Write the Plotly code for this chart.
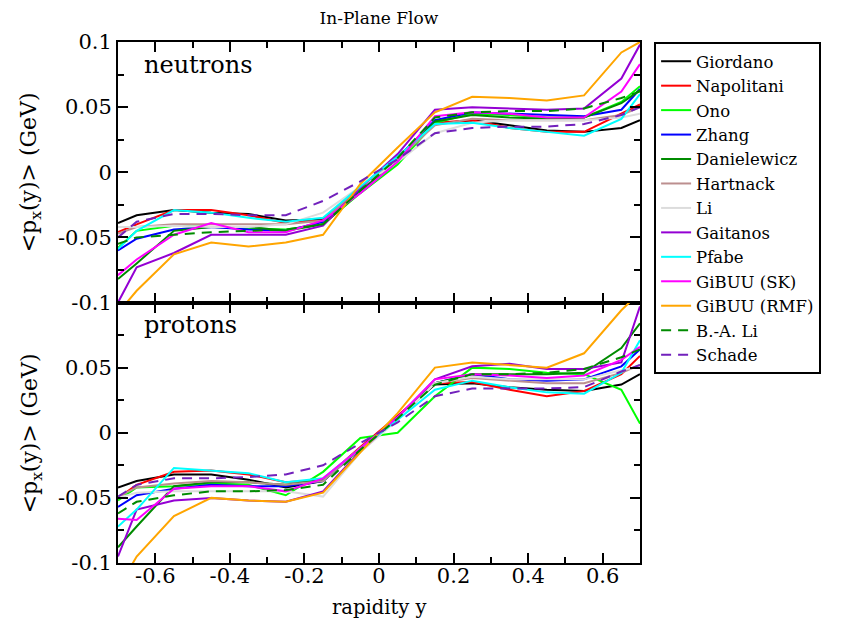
import plotly.graph_objects as go

rapidity = [-0.7, -0.65, -0.55, -0.45, -0.35, -0.25, -0.15, -0.05,
            0.05, 0.15, 0.25, 0.35, 0.45, 0.55, 0.65, 0.7]

models = ["Giordano", "Napolitani", "Ono", "Zhang", "Danielewicz", "Hartnack", "Li",
          "Gaitanos", "Pfabe", "GiBUU (SK)", "GiBUU (RMF)", "B.-A. Li", "Schade"]

neutrons = {
    "Giordano":    [-0.039, -0.033, -0.029, -0.031, -0.032, -0.037, -0.036, -0.012, 0.012, 0.037, 0.040, 0.036, 0.032, 0.031, 0.034, 0.040],
    "Napolitani":  [-0.046, -0.040, -0.029, -0.029, -0.033, -0.039, -0.037, -0.013, 0.011, 0.038, 0.040, 0.034, 0.031, 0.031, 0.045, 0.052],
    "Ono":         [-0.058, -0.045, -0.041, -0.042, -0.043, -0.044, -0.040, -0.016, 0.006, 0.038, 0.045, 0.044, 0.042, 0.042, 0.054, 0.066],
    "Zhang":       [-0.060, -0.051, -0.044, -0.042, -0.044, -0.045, -0.038, -0.013, 0.011, 0.040, 0.046, 0.045, 0.044, 0.043, 0.048, 0.064],
    "Danielewicz": [-0.082, -0.070, -0.045, -0.042, -0.042, -0.045, -0.040, -0.015, 0.010, 0.039, 0.044, 0.042, 0.041, 0.042, 0.053, 0.063],
    "Hartnack":    [-0.047, -0.042, -0.040, -0.040, -0.040, -0.040, -0.037, -0.012, 0.010, 0.036, 0.041, 0.040, 0.040, 0.040, 0.044, 0.050],
    "Li":          [-0.042, -0.042, -0.041, -0.042, -0.042, -0.040, -0.031, -0.011, 0.008, 0.030, 0.038, 0.040, 0.040, 0.040, 0.042, 0.045],
    "Gaitanos":    [-0.100, -0.073, -0.062, -0.048, -0.048, -0.048, -0.041, -0.012, 0.014, 0.048, 0.050, 0.049, 0.048, 0.049, 0.072, 0.098],
    "Pfabe":       [-0.059, -0.045, -0.029, -0.031, -0.035, -0.038, -0.035, -0.011, 0.012, 0.037, 0.038, 0.034, 0.031, 0.028, 0.041, 0.060],
    "GiBUU (SK)":  [-0.079, -0.067, -0.048, -0.039, -0.046, -0.046, -0.037, -0.016, 0.008, 0.043, 0.046, 0.045, 0.042, 0.042, 0.062, 0.083],
    "GiBUU (RMF)": [-0.108, -0.091, -0.063, -0.054, -0.057, -0.054, -0.048, -0.009, 0.019, 0.046, 0.058, 0.057, 0.055, 0.059, 0.092, 0.100],
    "B.-A. Li":    [-0.055, -0.050, -0.048, -0.046, -0.045, -0.044, -0.040, -0.014, 0.011, 0.042, 0.046, 0.047, 0.047, 0.049, 0.057, 0.062],
    "Schade":      [-0.050, -0.038, -0.032, -0.032, -0.033, -0.033, -0.022, -0.007, 0.010, 0.030, 0.034, 0.035, 0.035, 0.037, 0.044, 0.050],
}

protons = {
    "Giordano":    [-0.042, -0.037, -0.032, -0.032, -0.036, -0.042, -0.037, -0.012, 0.012, 0.037, 0.038, 0.035, 0.033, 0.032, 0.037, 0.045],
    "Napolitani":  [-0.050, -0.040, -0.030, -0.029, -0.032, -0.038, -0.036, -0.011, 0.013, 0.038, 0.039, 0.033, 0.028, 0.032, 0.045, 0.059],
    "Ono":         [-0.052, -0.042, -0.041, -0.039, -0.040, -0.048, -0.030, -0.004, 0.000, 0.028, 0.050, 0.049, 0.046, 0.045, 0.033, 0.007],
    "Zhang":       [-0.057, -0.048, -0.043, -0.040, -0.041, -0.041, -0.037, -0.012, 0.012, 0.038, 0.045, 0.041, 0.040, 0.041, 0.051, 0.064],
    "Danielewicz": [-0.088, -0.072, -0.041, -0.038, -0.038, -0.040, -0.036, -0.013, 0.011, 0.038, 0.045, 0.045, 0.045, 0.046, 0.065, 0.084],
    "Hartnack":    [-0.049, -0.042, -0.039, -0.037, -0.038, -0.040, -0.037, -0.012, 0.011, 0.038, 0.042, 0.040, 0.038, 0.038, 0.046, 0.052],
    "Li":          [-0.050, -0.046, -0.045, -0.045, -0.045, -0.045, -0.049, -0.015, 0.010, 0.038, 0.043, 0.041, 0.041, 0.041, 0.048, 0.051],
    "Gaitanos":    [-0.095, -0.059, -0.052, -0.050, -0.052, -0.053, -0.045, -0.014, 0.012, 0.041, 0.051, 0.053, 0.049, 0.049, 0.054, 0.097],
    "Pfabe":       [-0.072, -0.059, -0.027, -0.029, -0.031, -0.038, -0.035, -0.012, 0.010, 0.033, 0.040, 0.035, 0.031, 0.030, 0.046, 0.071],
    "GiBUU (SK)":  [-0.066, -0.067, -0.043, -0.041, -0.041, -0.045, -0.035, -0.012, 0.012, 0.041, 0.045, 0.044, 0.042, 0.044, 0.056, 0.066],
    "GiBUU (RMF)": [-0.120, -0.095, -0.064, -0.050, -0.052, -0.053, -0.046, -0.015, 0.015, 0.050, 0.054, 0.052, 0.050, 0.061, 0.094, 0.108],
    "B.-A. Li":    [-0.062, -0.053, -0.048, -0.045, -0.045, -0.044, -0.040, -0.013, 0.011, 0.037, 0.045, 0.045, 0.046, 0.049, 0.058, 0.064],
    "Schade":      [-0.049, -0.040, -0.035, -0.035, -0.034, -0.032, -0.025, -0.008, 0.008, 0.028, 0.034, 0.034, 0.034, 0.035, 0.047, 0.052],
}

colors = {
    "Giordano": "#000000", "Napolitani": "#FF0000", "Ono": "#00FF00", "Zhang": "#0000FF",
    "Danielewicz": "#008B00", "Hartnack": "#BC8F8F", "Li": "#DCDCDC", "Gaitanos": "#9400D3",
    "Pfabe": "#00FFFF", "GiBUU (SK)": "#FF00FF", "GiBUU (RMF)": "#FFA500",
    "B.-A. Li": "#008B00", "Schade": "#7221BC",
}
dashed = {"B.-A. Li", "Schade"}

x_major = [-0.6, -0.4, -0.2, 0, 0.2, 0.4, 0.6]
x_labels = ["-0.6", "-0.4", "-0.2", "0", "0.2", "0.4", "0.6"]
y_major = [-0.1, -0.05, 0, 0.05, 0.1]
y_labels_top = ["-0.1", "-0.05", "0", "0.05", "0.1"]
y_labels_bot = ["-0.1", "-0.05", "0", "0.05", ""]

FONT = "DejaVu Serif"

fig = go.Figure()
for m in models:
    line = dict(color=colors[m], width=2)
    if m in dashed:
        line["dash"] = "10px,7px"
    fig.add_trace(go.Scatter(x=rapidity, y=neutrons[m], mode="lines", name=m,
                             line=line, legendgroup=m, xaxis="x", yaxis="y"))
for m in models:
    line = dict(color=colors[m], width=2)
    if m in dashed:
        line["dash"] = "10px,7px"
    fig.add_trace(go.Scatter(x=rapidity, y=protons[m], mode="lines", name=m,
                             line=line, legendgroup=m, showlegend=False,
                             xaxis="x2", yaxis="y2"))

axis_common = dict(showline=True, linewidth=2, linecolor="black", mirror="allticks",
                   ticks="inside", ticklen=10, tickwidth=2, tickcolor="black",
                   showgrid=False, zeroline=False,
                   tickfont=dict(family=FONT, size=21, color="black"))

xcommon = dict(axis_common, range=[-0.7, 0.7], tickmode="array", tickvals=x_major,
               ticktext=x_labels,
               minor=dict(tickmode="array", tickvals=[-0.5, -0.3, -0.1, 0.1, 0.3, 0.5],
                          ticks="inside", ticklen=6, tickwidth=2, tickcolor="black"))
ycommon = dict(axis_common, range=[-0.1, 0.1], tickmode="array", tickvals=y_major,
               minor=dict(tickmode="array", tickvals=[-0.075, -0.025, 0.025, 0.075],
                          ticks="inside", ticklen=6, tickwidth=2, tickcolor="black"))

fig.update_layout(
    width=842, height=624,
    margin=dict(l=118, r=202, t=42, b=61),
    paper_bgcolor="white", plot_bgcolor="white",
    font=dict(family=FONT, color="black"),
    xaxis=dict(xcommon, domain=[0, 1], anchor="y", showticklabels=False),
    yaxis=dict(ycommon, domain=[0.5, 1], anchor="x", ticktext=y_labels_top),
    xaxis2=dict(xcommon, domain=[0, 1], anchor="y2", matches="x", ticklabelstandoff=-7),
    yaxis2=dict(ycommon, domain=[0, 0.5], anchor="x2", ticktext=y_labels_bot),
    title=dict(text="In-Plane Flow", x=0.45, xanchor="center", y=0.971, yanchor="middle",
               font=dict(family=FONT, size=17, color="black")),
    legend=dict(x=1.027, y=1.0, xanchor="left", yanchor="top",
                bordercolor="black", borderwidth=2, bgcolor="white",
                font=dict(family=FONT, size=16.5, color="black"),
                itemwidth=30, tracegroupgap=0),
    showlegend=True,
)

ytitle = "&lt;p<sub>x</sub>(y)&gt; (GeV)"
annotations = [
    dict(text="neutrons", x=0.046, y=0.956, xanchor="left", yanchor="middle"),
    dict(text="protons", x=0.046, y=0.457, xanchor="left", yanchor="middle"),
]
fig.update_layout(annotations=[
    dict(a, xref="paper", yref="paper", showarrow=False,
         font=dict(family=FONT, size=24, color="black")) for a in annotations
] + [
    dict(text=ytitle, x=-0.166, y=0.7505, xref="paper", yref="paper", textangle=-90,
         xanchor="center", yanchor="middle", showarrow=False,
         font=dict(family=FONT, size=22, color="black")),
    dict(text=ytitle, x=-0.166, y=0.2495, xref="paper", yref="paper", textangle=-90,
         xanchor="center", yanchor="middle", showarrow=False,
         font=dict(family=FONT, size=22, color="black")),
    dict(text="rapidity y", x=0.5, y=-0.0845, xref="paper", yref="paper",
         xanchor="center", yanchor="middle", showarrow=False,
         font=dict(family=FONT, size=19.5, color="black")),
])

fig.write_html("out.html")
